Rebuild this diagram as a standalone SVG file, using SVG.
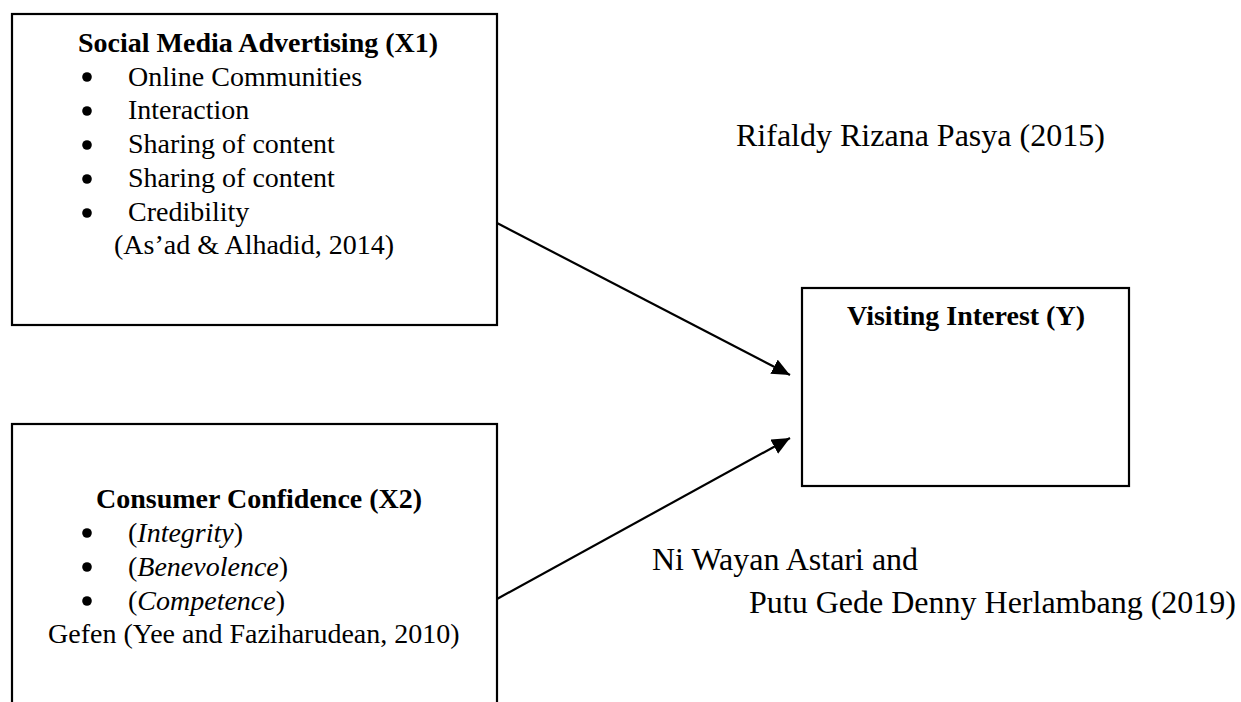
<svg xmlns="http://www.w3.org/2000/svg" width="1241" height="702" viewBox="0 0 1241 702">
<style>
.box{fill:#fff;stroke:#000;stroke-width:2.2}
text{font-family:"Liberation Serif","Times New Roman",serif;font-size:28px;fill:#000}
.b{font-weight:bold}
.i{font-style:italic}
.dot{fill:#000}
.big{font-size:32px}
.conn{stroke:#000;stroke-width:2.2;fill:none}
</style>
<defs>
<marker id="ah" markerUnits="userSpaceOnUse" markerWidth="20" markerHeight="18" refX="18" refY="8" orient="auto">
<path d="M0,0 L18,8 L0,16 Z" fill="#000"/>
</marker>
</defs>
<rect width="1241" height="702" fill="#fff"/>
<g id="x1">
<rect class="box" x="12" y="14" width="485" height="311"/>
<text class="b" x="78" y="52">Social Media Advertising (X1)</text>
<circle class="dot" cx="87" cy="77" r="4.8"/><text x="128" y="86">Online Communities</text>
<circle class="dot" cx="87" cy="111" r="4.8"/><text x="128" y="119">Interaction</text>
<circle class="dot" cx="87" cy="145" r="4.8"/><text x="128" y="153">Sharing of content</text>
<circle class="dot" cx="87" cy="179" r="4.8"/><text x="128" y="187">Sharing of content</text>
<circle class="dot" cx="87" cy="213" r="4.8"/><text x="128" y="221">Credibility</text>
<text x="114" y="254">(As’ad &amp; Alhadid, 2014)</text>
</g>
<g id="x2">
<rect class="box" x="12" y="424" width="485" height="300"/>
<text class="b" x="96" y="508">Consumer Confidence (X2)</text>
<circle class="dot" cx="87" cy="533" r="4.8"/><text x="128" y="542">(<tspan class="i">Integrity</tspan>)</text>
<circle class="dot" cx="87" cy="567" r="4.8"/><text x="128" y="576">(<tspan class="i">Benevolence</tspan>)</text>
<circle class="dot" cx="87" cy="601" r="4.8"/><text x="128" y="610">(<tspan class="i">Competence</tspan>)</text>
<text x="48" y="643">Gefen (Yee and Faziharudean, 2010)</text>
</g>
<g id="y">
<rect class="box" x="802" y="288" width="327" height="198"/>
<text class="b" x="847" y="325">Visiting Interest (Y)</text>
</g>
<g id="connectors">
<line class="conn" x1="497" y1="223" x2="790" y2="375" marker-end="url(#ah)"/>
<line class="conn" x1="497" y1="599" x2="790" y2="438" marker-end="url(#ah)"/>
</g>
<g id="labels">
<text class="big" x="736" y="146">Rifaldy Rizana Pasya (2015)</text>
<text class="big" x="652" y="570">Ni Wayan Astari and</text>
<text class="big" x="749" y="613">Putu Gede Denny Herlambang (2019)</text>
</g>
</svg>
